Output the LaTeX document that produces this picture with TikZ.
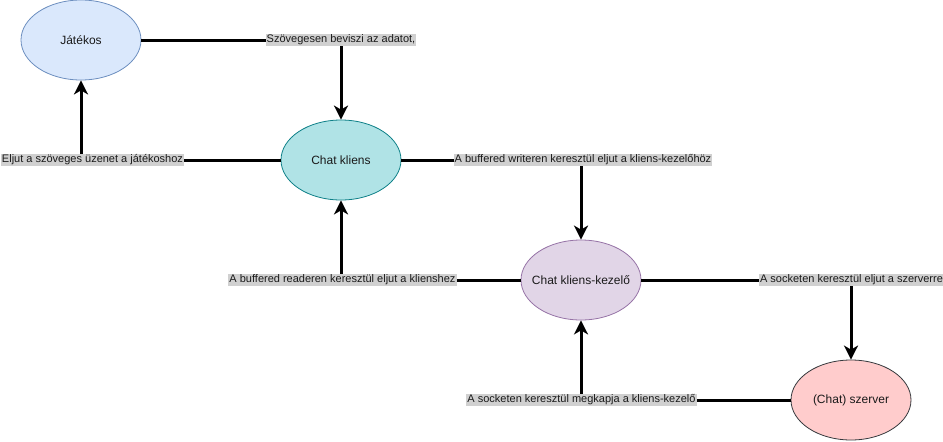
\documentclass[tikz,border=0pt]{standalone}
\usepackage{fontspec}
\setmainfont{Liberation Sans}
\usetikzlibrary{shapes.geometric,arrows.meta}
\definecolor{jatfill}{HTML}{DAE8FC}\definecolor{jatdraw}{HTML}{6C8EBF}
\definecolor{klfill}{HTML}{B0E3E6}\definecolor{kldraw}{HTML}{0E8088}
\definecolor{kkfill}{HTML}{E1D5E7}\definecolor{kkdraw}{HTML}{9673A6}
\definecolor{szfill}{HTML}{FFCCCC}\definecolor{szdraw}{HTML}{36393D}
\definecolor{lblfill}{HTML}{D0D0D0}\definecolor{txt}{HTML}{1A1A1A}
\newcommand{\elltext}[1]{\makebox[60pt]{#1}}
\begin{document}
\begin{tikzpicture}[x=1pt,y=-1pt,
  ell/.style={ellipse,minimum width=120pt,minimum height=80pt,inner sep=0pt,line width=0.8pt,font=\fontsize{12}{14}\selectfont,text=txt},
  conn/.style={line width=3pt,-{Stealth[length=14pt,width=14pt,inset=4pt]}},
  lbl/.style={fill=lblfill,inner sep=1pt,font=\fontsize{11}{13}\selectfont,text=txt}]
\useasboundingbox (0,0) rectangle (943,442);
\node[ell,fill=jatfill,draw=jatdraw] (jat) at (81,40) {\elltext{Játékos}};
\node[ell,fill=klfill,draw=kldraw] (kl) at (341,160) {\elltext{Chat kliens}};
\node[ell,fill=kkfill,draw=kkdraw] (kk) at (581,280) {\elltext{Chat kliens-kezelő}};
\node[ell,fill=szfill,draw=szdraw] (sz) at (851,400) {\elltext{(Chat) szerver}};
\coordinate (c1) at (341,40);
\coordinate (c2) at (81,160);
\coordinate (c3) at (581,160);
\coordinate (c4) at (341,280);
\coordinate (c5) at (851,280);
\coordinate (c6) at (581,400);
\draw[conn] (jat.east) -- (c1) -- (kl.north);
\draw[conn] (kl.west) -- (c2) -- (jat.south);
\draw[conn] (kl.east) -- (c3) -- (kk.north);
\draw[conn] (kk.west) -- (c4) -- (kl.south);
\draw[conn] (kk.east) -- (c5) -- (sz.north);
\draw[conn] (sz.west) -- (c6) -- (kk.south);
\node[lbl] (l1) at (341,40) {Szövegesen beviszi az adatot,};
\node[lbl] (l2) at (92.5,160) {Eljut a szöveges üzenet a játékoshoz};
\node[lbl] (l3) at (583,160) {A buffered writeren keresztül eljut a kliens-kezelőhöz};
\node[lbl] (l4) at (342.5,280) {A buffered readeren keresztül eljut a klienshez};
\node[lbl] (l5) at (851.5,280) {A socketen keresztül eljut a szerverre};
\node[lbl] (l6) at (581.5,400) {A socketen keresztül megkapja a kliens-kezelő};
\end{tikzpicture}
\end{document}
